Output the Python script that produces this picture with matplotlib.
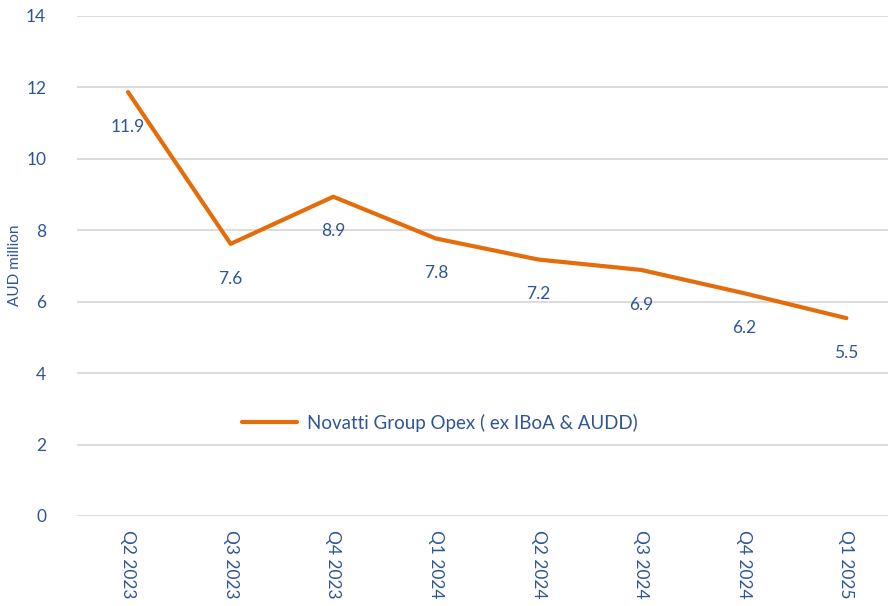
import matplotlib
matplotlib.use("Agg")
import matplotlib.pyplot as plt

plt.rcParams['font.family'] = ['Lato', 'DejaVu Sans']

# quarterly opex, AUD million
quarters = ["Q2 2023", "Q3 2023", "Q4 2023", "Q1 2024",
            "Q2 2024", "Q3 2024", "Q4 2024", "Q1 2025"]
opex = [11.87, 7.62, 8.94, 7.77, 7.18, 6.89, 6.24, 5.54]
series_name = "Novatti Group Opex ( ex IBoA & AUDD)"

text_col = "#2F5597"
line_col = "#E46C0A"

fig = plt.figure(figsize=(8.88, 6.06), dpi=100)
# plot area runs past the right edge like the source image
ax = fig.add_axes([76.7 / 888, 1 - 516 / 606, 821 / 888, 500 / 606])

x = list(range(len(quarters)))
ax.plot(x, opex, color=line_col, linewidth=3, solid_capstyle='round',
        label=series_name)

for xi, v in zip(x, opex):
    ax.annotate("{:.1f}".format(v), (xi, v), xytext=(0, -25),
                textcoords='offset points', ha='center', va='center',
                fontsize=12.5, color=text_col)

ax.set_xlim(-0.5, len(quarters) - 0.5)
ax.set_ylim(0, 14)
ax.set_yticks(range(0, 15, 2))
ax.set_xticks(x)
ax.set_xticklabels(quarters, rotation=270, fontsize=12.5, color=text_col)
ax.tick_params(axis='y', labelsize=12.5, labelcolor=text_col, length=0, pad=22)
ax.tick_params(axis='x', length=0, pad=10)

ax.grid(axis='y', color='#D9D9D9', linewidth=1.3)
ax.set_axisbelow(True)
for s in ax.spines.values():
    s.set_visible(False)

fig.text(15 / 888, 1 - 265 / 606, "AUD million", rotation=90, ha='center',
         va='center', fontsize=11, color=text_col)

ax.legend(loc='center', bbox_to_anchor=(440 / 888, 1 - 423 / 606),
          bbox_transform=fig.transFigure, frameon=False, fontsize=13.5,
          labelcolor=text_col, handlelength=2.9, handletextpad=0.55)

fig.savefig("out.png", dpi=100)
